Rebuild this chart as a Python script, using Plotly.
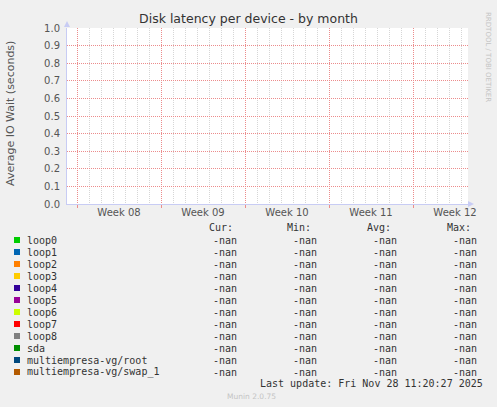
import plotly.graph_objects as go

# ---------------- data ----------------
series_names = ["loop0", "loop1", "loop2", "loop3", "loop4", "loop5", "loop6",
                "loop7", "loop8", "sda", "multiempresa-vg/root", "multiempresa-vg/swap_1"]
series_colors = ["#00cc00", "#0066b3", "#ff8000", "#ffcc00", "#330099", "#990099",
                 "#ccff00", "#ff0000", "#808080", "#008f00", "#00487d", "#b35a00"]
sample_times = ["2025-02-17", "2025-02-24", "2025-03-03", "2025-03-10", "2025-03-17"]
series_values = [
    [None, None, None, None, None],
    [None, None, None, None, None],
    [None, None, None, None, None],
    [None, None, None, None, None],
    [None, None, None, None, None],
    [None, None, None, None, None],
    [None, None, None, None, None],
    [None, None, None, None, None],
    [None, None, None, None, None],
    [None, None, None, None, None],
    [None, None, None, None, None],
    [None, None, None, None, None],
]
cur_values = ["-nan", "-nan", "-nan", "-nan", "-nan", "-nan", "-nan", "-nan", "-nan", "-nan", "-nan", "-nan"]
min_values = ["-nan", "-nan", "-nan", "-nan", "-nan", "-nan", "-nan", "-nan", "-nan", "-nan", "-nan", "-nan"]
avg_values = ["-nan", "-nan", "-nan", "-nan", "-nan", "-nan", "-nan", "-nan", "-nan", "-nan", "-nan", "-nan"]
max_values = ["-nan", "-nan", "-nan", "-nan", "-nan", "-nan", "-nan", "-nan", "-nan", "-nan", "-nan", "-nan"]
column_headers = ["Cur:", "Min:", "Avg:", "Max:"]
week_starts = ["2025-02-17", "2025-02-24", "2025-03-03", "2025-03-10", "2025-03-17"]
week_label_pos = ["2025-02-20 12:00", "2025-02-27 12:00", "2025-03-06 12:00",
                  "2025-03-13 12:00", "2025-03-20 12:00"]
week_labels = ["Week 08", "Week 09", "Week 10", "Week 11", "Week 12"]
x_range = ["2025-02-16 04:00", "2025-03-21 14:00"]
y_ticks = [0.0, 0.1, 0.2, 0.3, 0.4, 0.5, 0.6, 0.7, 0.8, 0.9, 1.0]

title_text = "Disk latency per device - by month"
ylabel_text = "Average IO Wait (seconds)"
last_update = "Last update: Fri Nov 28 11:20:27 2025"
footer_text = "Munin 2.0.75"
watermark = "RRDTOOL / TOBI OETIKER"

# ---------------- geometry ----------------
W, H = 497, 407
L, R, T, B = 67, 468, 28, 204


def fx(px):
    return (px - L) / (R - L)


def fy(py):
    return (B - py) / (B - T)


MONO = "DejaVu Sans Mono"
SANS = "DejaVu Sans"
TXT = "#333333"
RED_GRID = "#ec8c8c"
MINOR_GRID = "#d6d6d6"
AXIS = "#c8ccf4"

fig = go.Figure()
for name, color, vals in zip(series_names, series_colors, series_values):
    fig.add_trace(go.Scatter(x=sample_times, y=vals, name=name, mode="lines",
                             line=dict(color=color, width=1), showlegend=False))
# dummy trace for label axis
fig.add_trace(go.Scatter(x=[], y=[], xaxis="x2", showlegend=False))

annotations = []
shapes = []

# y-axis title
annotations.append(dict(x=fx(10), y=fy(114), xref="paper", yref="paper", text=ylabel_text,
                        textangle=-90, showarrow=False, xanchor="center", yanchor="middle",
                        font=dict(family=SANS, size=11, color="#555555")))
# watermark
annotations.append(dict(x=fx(488), y=fy(57), xref="paper", yref="paper", text=watermark,
                        textangle=90, showarrow=False, xanchor="center", yanchor="middle",
                        font=dict(family=SANS, size=7, color="#c4c4c4")))

# legend header
header_x = [235, 313, 393, 473]
value_x = [238.5, 318.5, 398.5, 478.5]
for hx, h in zip(header_x, column_headers):
    annotations.append(dict(x=fx(hx), y=fy(227.5), xref="paper", yref="paper", text=h,
                            showarrow=False, xanchor="right", yanchor="middle",
                            font=dict(family=MONO, size=10, color=TXT)))

for i, name in enumerate(series_names):
    py = 240 + 12 * i
    shapes.append(dict(type="rect", xref="paper", yref="paper",
                       x0=fx(14), x1=fx(20), y0=fy(py - 3), y1=fy(py + 3),
                       fillcolor=series_colors[i], line=dict(width=0)))
    annotations.append(dict(x=fx(24.5), y=fy(py), xref="paper", yref="paper", text=name,
                            showarrow=False, xanchor="left", yanchor="middle",
                            font=dict(family=MONO, size=10, color=TXT)))
    for vx, col in zip(value_x, [cur_values, min_values, avg_values, max_values]):
        annotations.append(dict(x=fx(vx), y=fy(py), xref="paper", yref="paper", text=col[i],
                                showarrow=False, xanchor="right", yanchor="middle",
                                font=dict(family=MONO, size=10, color=TXT)))

annotations.append(dict(x=fx(485), y=fy(383), xref="paper", yref="paper", text=last_update,
                        showarrow=False, xanchor="right", yanchor="middle",
                        font=dict(family=MONO, size=10, color=TXT)))
annotations.append(dict(x=fx(251), y=fy(396), xref="paper", yref="paper", text=footer_text,
                        showarrow=False, xanchor="center", yanchor="middle",
                        font=dict(family=SANS, size=7.5, color="#c4c4c4")))

# axis arrows
shapes.append(dict(type="path", xref="paper", yref="paper",
                   path=f"M {fx(67)} {fy(21)} L {fx(64)} {fy(27)} L {fx(70)} {fy(27)} Z",
                   fillcolor=AXIS, line=dict(width=0)))
shapes.append(dict(type="path", xref="paper", yref="paper",
                   path=f"M {fx(474)} {fy(204)} L {fx(468)} {fy(201)} L {fx(468)} {fy(207)} Z",
                   fillcolor=AXIS, line=dict(width=0)))

fig.update_layout(
    width=W, height=H, autosize=False,
    margin=dict(l=L, r=W - R, t=T, b=H - B, pad=0),
    paper_bgcolor="#f0f0f0", plot_bgcolor="#ffffff",
    title=dict(text=title_text, x=0.5, xref="container", xanchor="center",
               y=1 - 19 / H, yref="container", yanchor="middle",
               font=dict(family=SANS, size=12.5, color=TXT)),
    xaxis=dict(type="date", range=x_range, tickvals=week_starts,
               ticktext=["" for _ in week_starts], showgrid=True, gridcolor=RED_GRID,
               griddash="1px,1px", gridwidth=1, ticks="outside", ticklen=3,
               tickcolor=RED_GRID, showline=True, linecolor=AXIS, linewidth=1,
               zeroline=False, fixedrange=True,
               minor=dict(dtick=86400000, tick0="2025-02-16", showgrid=True,
                          gridcolor=MINOR_GRID, griddash="1px,1px", gridwidth=1, ticks="")),
    xaxis2=dict(type="date", overlaying="x", anchor="y", side="bottom", range=x_range,
                tickvals=week_label_pos, ticktext=week_labels, showgrid=False,
                ticks="", showline=False, zeroline=False, ticklabelstandoff=1,
                tickfont=dict(family=SANS, size=10, color="#555555")),
    yaxis=dict(range=[0, 1], tickvals=y_ticks, tickformat=".1f", showgrid=True,
               gridcolor=RED_GRID, griddash="1px,1px", gridwidth=1, ticks="",
               showline=True, linecolor=AXIS, linewidth=1, zeroline=False,
               ticklabelstandoff=4, tickfont=dict(family=SANS, size=10, color="#555555")),
    annotations=annotations,
    shapes=shapes,
)

fig.write_html("out.html", config={"displayModeBar": False, "staticPlot": True})

# remove the browser's default page margin so the figure sits at the top-left corner
with open("out.html", "r", encoding="utf-8") as f:
    html = f.read()
html = html.replace("<head>", "<head><style>html,body{margin:0;padding:0;overflow:hidden;}</style>", 1)
with open("out.html", "w", encoding="utf-8") as f:
    f.write(html)
